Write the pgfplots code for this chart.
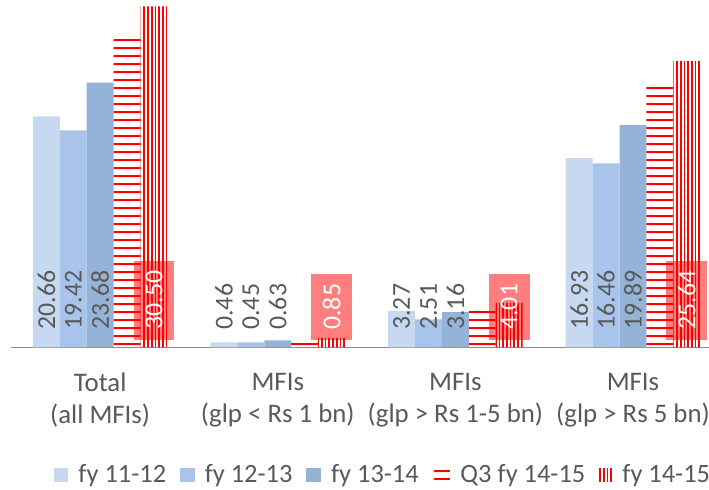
\documentclass[border=0pt]{standalone}
\usepackage{fontspec}
\setmainfont{Carlito}
\usepackage{pgfplots}
\pgfplotsset{compat=1.18}
\usetikzlibrary{patterns.meta}

\definecolor{fyA}{HTML}{C6D9F0}
\definecolor{fyB}{HTML}{A9C4EB}
\definecolor{fyC}{HTML}{95B3D7}
\definecolor{lbl}{HTML}{595959}
\definecolor{axisgray}{HTML}{8C8C8C}

% value labels sit at the foot of each bar, rotated
\pgfplotsset{
  baselabel/.style={
    visualization depends on=y \as \rawy,
    nodes near coords={\pgfmathprintnumber[fixed,zerofill,precision=2]{\pgfplotspointmeta}},
    every node near coord/.append style={
      shift={(axis direction cs:0,-\rawy)}, yshift=8.75pt, rotate=90,
      anchor=west, inner sep=0pt, text=lbl,
      font=\fontsize{12.9}{14}\selectfont},
  },
  boxlabel/.style={
    visualization depends on=y \as \rawy,
    nodes near coords={\pgfmathprintnumber[fixed,zerofill,precision=2]{\pgfplotspointmeta}},
    every node near coord/.append style={
      shift={(axis direction cs:0,-\rawy)}, yshift=3.75pt, rotate=90,
      anchor=west, inner xsep=5pt, inner ysep=0pt, minimum height=20.35pt,
      fill=red, fill opacity=0.5, text opacity=1, text=white,
      font=\fontsize{12.9}{14}\selectfont},
  },
}

\begin{document}
\begin{tikzpicture}
\useasboundingbox (-5.7pt,-71.25pt) rectangle (348.8pt,173.75pt);
\begin{axis}[
  at={(0pt,0pt)}, anchor=south west,
  scale only axis, width=355.2pt, height=173.75pt,
  xmin=-0.5, xmax=3.5, ymin=0, ymax=31.08,
  ybar=0pt, bar width=13.45pt,
  axis x line*=bottom, axis y line=none,
  x axis line style={draw=axisgray, line width=0.75pt},
  xtick={0,1,2,3},
  xticklabels={{Total\\(all MFIs)},{MFIs\\(glp < Rs 1 bn)},{MFIs\\(glp > Rs 1-5 bn)},{MFIs\\(glp > Rs 5 bn)}},
  major tick length=0pt, ytick=\empty,
  xticklabel style={align=center, font=\fontsize{13.4}{16}\selectfont, text=lbl,
    inner sep=0pt, anchor=north, yshift=-12.6pt},
  clip=false,
  /pgf/number format/assume math mode=true,
  legend columns=-1,
  legend style={at={(0.0592,-0.367)}, anchor=west, draw=none, fill=none,
    inner sep=0pt, font=\fontsize{13.2}{16}\selectfont, text=lbl,
    /tikz/every even column/.append style={column sep=5.0pt},
    /tikz/every odd column/.append style={column sep=3.1pt}},
]
\addplot[draw=none, fill=fyA, baselabel,
  legend image code/.code={\fill[fyA] (0pt,-3.6pt) rectangle (7.2pt,3.6pt);}]
  coordinates {(0,20.66) (1,0.46) (2,3.27) (3,16.93)};
\addlegendentry{fy 11-12}
\addplot[draw=none, fill=fyB, baselabel,
  legend image code/.code={\fill[fyB] (0pt,-3.6pt) rectangle (7.2pt,3.6pt);}]
  coordinates {(0,19.42) (1,0.45) (2,2.51) (3,16.46)};
\addlegendentry{fy 12-13}
\addplot[draw=none, fill=fyC, baselabel,
  legend image code/.code={\fill[fyC] (0pt,-3.6pt) rectangle (7.2pt,3.6pt);}]
  coordinates {(0,23.68) (1,0.63) (2,3.16) (3,19.89)};
\addlegendentry{fy 13-14}
\addplot[draw=none, pattern={Lines[angle=0,distance=4pt,line width=1pt,yshift=1.15pt]}, pattern color=red,
  legend image code/.code={\draw[red, line width=0.75pt] (0pt,-2pt) -- (8pt,-2pt) (0pt,2pt) -- (8pt,2pt);}]
  coordinates {(0,27.8) (1,0.5) (2,3.45) (3,23.5)};
\addlegendentry{Q3 fy 14-15}
\addplot[draw=none, pattern={Lines[angle=90,distance=1.85pt,line width=0.85pt]}, pattern color=red, boxlabel,
  legend image code/.code={\draw[red, line width=0.9pt] (0.5pt,-3.4pt) -- (0.5pt,3.4pt) (2.35pt,-3.4pt) -- (2.35pt,3.4pt) (4.2pt,-3.4pt) -- (4.2pt,3.4pt) (6.05pt,-3.4pt) -- (6.05pt,3.4pt);}]
  coordinates {(0,30.50) (1,0.85) (2,4.01) (3,25.64)};
\addlegendentry{fy 14-15}
\end{axis}
\end{tikzpicture}
\end{document}
